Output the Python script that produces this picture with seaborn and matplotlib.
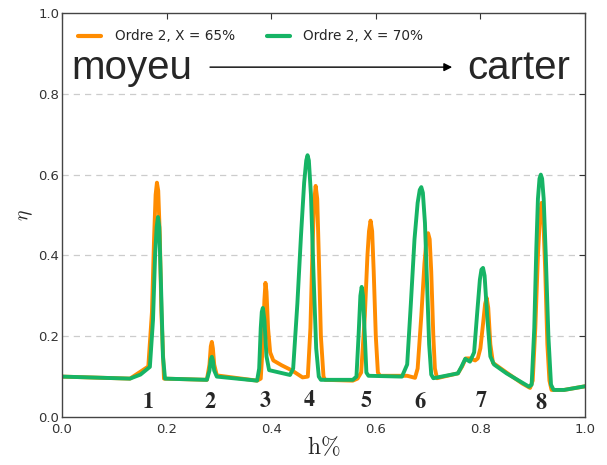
import numpy as np
import pandas as pd
import seaborn as sns
import matplotlib
matplotlib.use("Agg")
import matplotlib.pyplot as plt

# ---- data ----
h_65 = [0.0, 0.13, 0.165, 0.172, 0.176, 0.179, 0.1815, 0.184, 0.187, 0.190, 0.195,
        0.277, 0.282, 0.2845, 0.2865, 0.2885, 0.291, 0.296,
        0.373, 0.380, 0.384, 0.387, 0.389, 0.391, 0.394, 0.398, 0.404, 0.420, 0.440, 0.460,
        0.470, 0.475, 0.479, 0.482, 0.485, 0.488, 0.491, 0.495, 0.500, 0.503,
        0.556, 0.565, 0.572, 0.579, 0.584, 0.587, 0.590, 0.593, 0.596, 0.600, 0.604, 0.608,
        0.660, 0.675, 0.680, 0.687, 0.693, 0.697, 0.700, 0.703, 0.706, 0.710, 0.713, 0.717,
        0.730, 0.757, 0.765, 0.772, 0.780, 0.790, 0.795, 0.800, 0.805, 0.809, 0.812, 0.815,
        0.819, 0.824, 0.850, 0.880, 0.895, 0.900, 0.905, 0.910, 0.914, 0.917, 0.920, 0.924,
        0.928, 0.932, 0.936, 0.960, 1.0]
eta_65 = [0.100, 0.095, 0.125, 0.26, 0.44, 0.55, 0.58, 0.56, 0.45, 0.26, 0.095,
          0.092, 0.13, 0.175, 0.186, 0.17, 0.13, 0.103,
          0.090, 0.095, 0.18, 0.29, 0.332, 0.31, 0.22, 0.16, 0.14, 0.128, 0.115, 0.098,
          0.100, 0.22, 0.42, 0.53, 0.572, 0.54, 0.40, 0.20, 0.10, 0.092,
          0.090, 0.095, 0.11, 0.25, 0.40, 0.46, 0.486, 0.46, 0.36, 0.20, 0.11, 0.102,
          0.102, 0.097, 0.12, 0.25, 0.38, 0.44, 0.455, 0.44, 0.36, 0.20, 0.12, 0.096,
          0.100, 0.108, 0.125, 0.145, 0.145, 0.140, 0.145, 0.17, 0.23, 0.28, 0.295, 0.27,
          0.18, 0.134, 0.110, 0.083, 0.072, 0.09, 0.22, 0.40, 0.50, 0.53, 0.50, 0.36,
          0.18, 0.09, 0.067, 0.067, 0.076]

h_70 = [0.0, 0.13, 0.150, 0.168, 0.174, 0.178, 0.181, 0.1835, 0.186, 0.189, 0.193, 0.197,
        0.277, 0.282, 0.2845, 0.2865, 0.2885, 0.291, 0.296,
        0.373, 0.377, 0.380, 0.382, 0.384, 0.387, 0.391, 0.396, 0.436, 0.442, 0.450,
        0.457, 0.463, 0.467, 0.4695, 0.472, 0.476, 0.481, 0.486, 0.491, 0.495,
        0.556, 0.563, 0.567, 0.5705, 0.573, 0.5755, 0.579, 0.582, 0.586,
        0.650, 0.660, 0.667, 0.674, 0.680, 0.684, 0.687, 0.690, 0.694, 0.698, 0.702,
        0.706, 0.710, 0.757, 0.764, 0.771, 0.780, 0.788, 0.794, 0.799, 0.802, 0.805, 0.808,
        0.813, 0.819, 0.826, 0.850, 0.880, 0.893, 0.898, 0.903, 0.907, 0.910, 0.913, 0.9155,
        0.918, 0.921, 0.925, 0.930, 0.935, 0.940, 0.960, 1.0]
eta_70 = [0.100, 0.095, 0.105, 0.124, 0.24, 0.40, 0.47, 0.495, 0.47, 0.34, 0.15, 0.095,
          0.092, 0.115, 0.142, 0.149, 0.14, 0.115, 0.100,
          0.090, 0.12, 0.22, 0.26, 0.27, 0.24, 0.15, 0.116, 0.104, 0.12, 0.28,
          0.45, 0.58, 0.635, 0.648, 0.635, 0.55, 0.35, 0.17, 0.10, 0.092,
          0.092, 0.10, 0.20, 0.30, 0.322, 0.30, 0.20, 0.11, 0.102,
          0.100, 0.13, 0.28, 0.44, 0.53, 0.562, 0.569, 0.555, 0.48, 0.33, 0.18,
          0.105, 0.096, 0.108, 0.125, 0.144, 0.137, 0.16, 0.26, 0.34, 0.365, 0.369, 0.35,
          0.25, 0.15, 0.13, 0.108, 0.085, 0.075, 0.08, 0.22, 0.42, 0.54, 0.59, 0.60,
          0.59, 0.54, 0.40, 0.20, 0.08, 0.067, 0.067, 0.076]

series_names = ["Ordre 2, X = 65%", "Ordre 2, X = 70%"]
region_labels = ["1", "2", "3", "4", "5", "6", "7", "8"]
region_pos = [0.164, 0.283, 0.388, 0.472, 0.581, 0.685, 0.801, 0.916]
region_y = [0.038, 0.038, 0.040, 0.043, 0.040, 0.038, 0.040, 0.035]

df = pd.concat([
    pd.DataFrame({"h": h_65, "eta": eta_65, "serie": series_names[0]}),
    pd.DataFrame({"h": h_70, "eta": eta_70, "serie": series_names[1]}),
], ignore_index=True)

sns.set_style("white")
plt.rcParams.update({
    "font.family": ["DejaVu Sans"],
    "mathtext.fontset": "cm",
    "xtick.direction": "in",
    "ytick.direction": "in",
    "xtick.top": True,
    "ytick.right": True,
    "xtick.major.size": 4,
    "ytick.major.size": 4,
    "xtick.color": "#333333",
    "ytick.color": "#333333",
    "lines.solid_joinstyle": "round",
})

fig = plt.figure(figsize=(6.07, 4.65), dpi=100)
ax = fig.add_axes([62 / 607, 48 / 465, 523 / 607, 404 / 465])

palette = {series_names[0]: "#ff8c00", series_names[1]: "#16b465"}
sns.lineplot(data=df, x="h", y="eta", hue="serie", palette=palette,
             estimator=None, sort=False, linewidth=2.8, ax=ax)

ax.set_xlim(0, 1)
ax.set_ylim(0, 1)
ax.set_xticks([0, 0.2, 0.4, 0.6, 0.8, 1.0])
ax.set_yticks([0, 0.2, 0.4, 0.6, 0.8, 1.0])
ax.set_xticklabels(["0.0", "0.2", "0.4", "0.6", "0.8", "1.0"], fontsize=9.5, color="#333333")
ax.set_yticklabels(["0.0", "0.2", "0.4", "0.6", "0.8", "1.0"], fontsize=9.5, color="#333333")
ax.tick_params(axis="y", pad=2)
ax.tick_params(axis="x", pad=4)
for s in ax.spines.values():
    s.set_color("#444444")
    s.set_linewidth(1.0)

for yv in [0.2, 0.4, 0.6, 0.8]:
    ax.axhline(yv, color="#cccccc", linestyle=(0, (5, 4)), linewidth=0.9, zorder=0)

ax.set_xlabel(r"$\mathrm{h}\%$", fontsize=17, labelpad=0)
ax.set_ylabel(r"$\eta$", fontsize=14, labelpad=2)

for lab, xp, yp in zip(region_labels, region_pos, region_y):
    ax.text(xp, yp, r"$\mathbf{" + lab + "}$", fontsize=16, ha="center", va="center",
            math_fontfamily="stix")

ax.text(0.018, 0.837, "moyeu", fontsize=29, family="Liberation Sans", ha="left", va="baseline")
ax.text(0.972, 0.837, "carter", fontsize=29, family="Liberation Sans", ha="right", va="baseline")
ax.annotate("", xy=(0.746, 0.866), xytext=(0.283, 0.866),
            arrowprops=dict(arrowstyle="-|>", color="black", lw=1.0,
                            mutation_scale=12, shrinkA=0, shrinkB=0))

leg = ax.legend(loc="upper left", ncol=2, frameon=False, fontsize=9.8,
                handlelength=1.7, columnspacing=2.3, bbox_to_anchor=(0.0, 1.0),
                borderaxespad=0.8, handletextpad=1.0)
for line in leg.get_lines():
    line.set_linewidth(3.0)

fig.savefig("out.png", dpi=100)
